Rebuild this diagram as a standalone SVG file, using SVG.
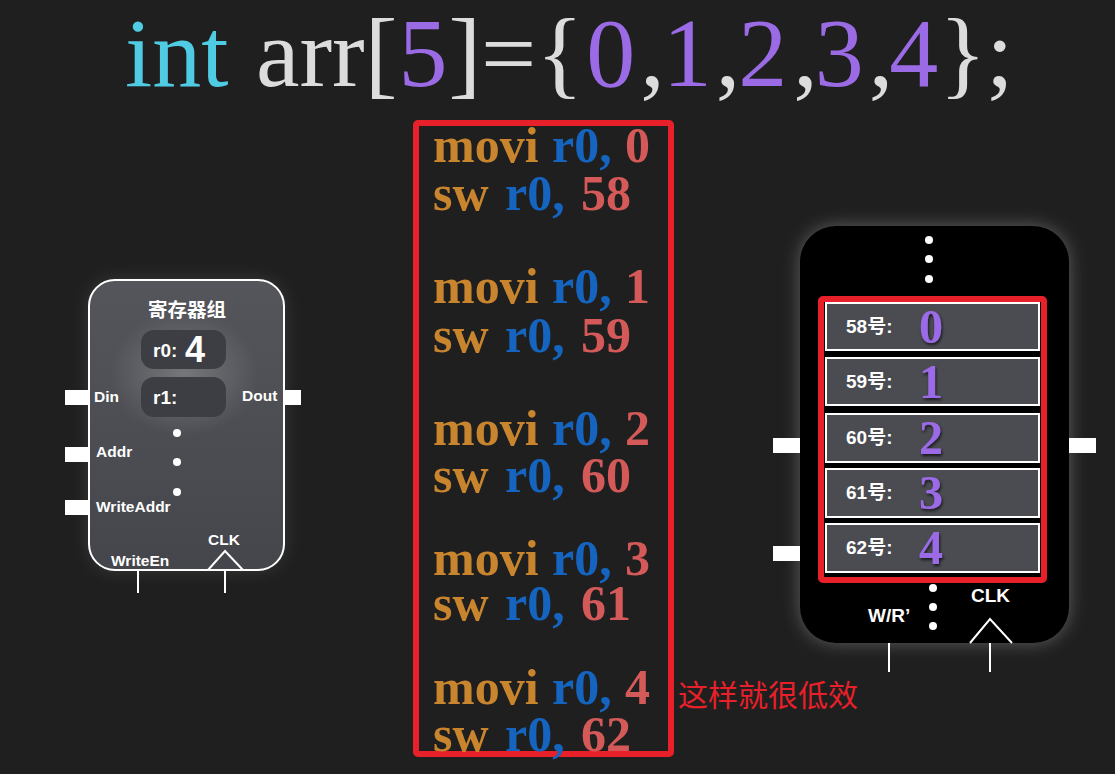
<svg xmlns="http://www.w3.org/2000/svg" width="1115" height="774" viewBox="0 0 1115 774">
<defs>
<style>
.sans{font-family:"Liberation Sans","Noto Sans CJK SC",Arial,sans-serif;font-weight:bold;fill:#ffffff}
.serif{font-family:"Liberation Serif","Times New Roman",serif}
.code{font-family:"Liberation Serif","Times New Roman",serif;font-weight:bold;font-size:50px}
.op{fill:#c8852e}
.reg{fill:#1565c0}
.num{fill:#d45a5a}
.cyan{fill:#4fcbe3}
.gray{fill:#dcdcdc}
.purple{fill:#9b6be6}
.stub{fill:#ffffff}
.wire{stroke:#ffffff;stroke-width:2;fill:none}
.cell{fill:#4b4c52;stroke:#ffffff;stroke-width:2}
.memnum{font-family:"Liberation Serif","Times New Roman",serif;font-weight:bold;font-size:48px;fill:#9b6be6}
.dot{fill:#ffffff}
</style>
<filter id="glow" x="-30%" y="-30%" width="160%" height="160%">
<feGaussianBlur stdDeviation="9"/>
</filter>
<filter id="shadow" x="-30%" y="-30%" width="160%" height="160%">
<feDropShadow dx="1" dy="2" stdDeviation="1.5" flood-color="#000000" flood-opacity="0.7"/>
</filter>
<linearGradient id="boxgrad" x1="0" y1="0" x2="0" y2="1">
<stop offset="0" stop-color="#55565b"/>
<stop offset="1" stop-color="#45464b"/>
</linearGradient>
<radialGradient id="halo" cx="0.5" cy="0.5" r="0.5">
<stop offset="0" stop-color="#ffffff" stop-opacity="0.22"/>
<stop offset="1" stop-color="#ffffff" stop-opacity="0"/>
</radialGradient>
</defs>
<rect width="1115" height="774" fill="#1f1f1f"/>

<g id="title">
<text class="serif" x="125" y="86" font-size="98" xml:space="preserve"><tspan class="cyan">int</tspan><tspan class="gray" dx="3"> arr[</tspan><tspan class="purple" dx="1">5</tspan><tspan class="gray" dx="1">]={</tspan><tspan class="purple" dx="3">0</tspan><tspan class="gray" dx="5">,</tspan><tspan class="purple" dx="-2">1</tspan><tspan class="gray" dx="4">,</tspan><tspan class="purple" dx="-2">2</tspan><tspan class="gray" dx="6">,</tspan><tspan class="purple" dx="-3">3</tspan><tspan class="gray" dx="5">,</tspan><tspan class="purple" dx="-4">4</tspan><tspan class="gray" dx="1">};</tspan></text>
</g>

<g id="code">
<rect x="416" y="123" width="255" height="631" fill="none" stroke="#e8202a" stroke-width="6" rx="2"/>
<text class="code"><tspan class="op" x="433" y="162">movi</tspan><tspan class="reg" x="552" y="162">r0,</tspan><tspan class="num" x="625" y="162">0</tspan><tspan class="op" x="433" y="210">sw</tspan><tspan class="reg" x="505" y="210">r0,</tspan><tspan class="num" x="581" y="210">58</tspan></text>
<text class="code"><tspan class="op" x="433" y="303">movi</tspan><tspan class="reg" x="552" y="303">r0,</tspan><tspan class="num" x="625" y="303">1</tspan><tspan class="op" x="433" y="352">sw</tspan><tspan class="reg" x="505" y="352">r0,</tspan><tspan class="num" x="581" y="352">59</tspan></text>
<text class="code"><tspan class="op" x="433" y="445">movi</tspan><tspan class="reg" x="552" y="445">r0,</tspan><tspan class="num" x="625" y="445">2</tspan><tspan class="op" x="433" y="492">sw</tspan><tspan class="reg" x="505" y="492">r0,</tspan><tspan class="num" x="581" y="492">60</tspan></text>
<text class="code"><tspan class="op" x="433" y="575">movi</tspan><tspan class="reg" x="552" y="575">r0,</tspan><tspan class="num" x="625" y="575">3</tspan><tspan class="op" x="433" y="620">sw</tspan><tspan class="reg" x="505" y="620">r0,</tspan><tspan class="num" x="581" y="620">61</tspan></text>
<text class="code"><tspan class="op" x="433" y="704">movi</tspan><tspan class="reg" x="552" y="704">r0,</tspan><tspan class="num" x="625" y="704">4</tspan><tspan class="op" x="433" y="751">sw</tspan><tspan class="reg" x="505" y="751">r0,</tspan><tspan class="num" x="581" y="751">62</tspan></text>
</g>

<g id="note">
<text x="678" y="706" font-family="'Noto Sans CJK SC',sans-serif" font-size="30" fill="#e8202a">这样就很低效</text>
</g>

<g id="connectors">
<rect class="stub" x="65" y="390" width="24" height="15"/>
<rect class="stub" x="65" y="447" width="24" height="15"/>
<rect class="stub" x="65" y="500" width="24" height="15"/>
<rect class="stub" x="284" y="390" width="17" height="15"/>
<line class="wire" x1="138" y1="570" x2="138" y2="593"/>
<line class="wire" x1="225" y1="570" x2="225" y2="593"/>
<rect class="stub" x="773" y="438" width="27" height="15"/>
<rect class="stub" x="773" y="546" width="27" height="15"/>
<rect class="stub" x="1069" y="438" width="27" height="15"/>
<line class="wire" x1="889" y1="643" x2="889" y2="672"/>
<line class="wire" x1="990" y1="643" x2="990" y2="672"/>
</g>

<g id="regfile">
<rect x="89" y="280" width="195" height="290" rx="26" fill="#ffffff" opacity="0.12" filter="url(#glow)"/>
<rect x="89" y="280" width="195" height="290" rx="26" fill="url(#boxgrad)" stroke="#ffffff" stroke-width="2"/>
<ellipse cx="184" cy="374" rx="75" ry="62" fill="url(#halo)"/>
<text class="sans" x="187" y="317" font-size="19.5" text-anchor="middle">寄存器组</text>
<rect x="141" y="330" width="85" height="39" rx="13" fill="#3d3e43"/>
<text class="sans" x="153" y="357" font-size="19">r0:</text>
<text class="sans" x="185" y="362" font-size="36">4</text>
<rect x="141" y="377" width="85" height="40" rx="13" fill="#3d3e43"/>
<text class="sans" x="153" y="404" font-size="19">r1:</text>
<circle class="dot" cx="177" cy="433" r="4"/>
<circle class="dot" cx="177" cy="462" r="4"/>
<circle class="dot" cx="177" cy="492" r="4"/>
<text class="sans" x="94" y="402" font-size="15.5">Din</text>
<text class="sans" x="242" y="401" font-size="15.5">Dout</text>
<text class="sans" x="96" y="457" font-size="15.5">Addr</text>
<text class="sans" x="96" y="512" font-size="15.5">WriteAddr</text>
<text class="sans" x="208" y="545" font-size="15.5">CLK</text>
<text class="sans" x="111" y="566" font-size="15.5">WriteEn</text>
<polyline class="wire" points="208,570 225,551 243,570"/>
</g>

<g id="memory">
<rect x="800" y="226" width="269" height="417" rx="36" fill="#ffffff" opacity="0.28" filter="url(#glow)"/>
<rect x="800" y="226" width="269" height="417" rx="36" fill="#000000"/>
<circle class="dot" cx="929" cy="240" r="4"/>
<circle class="dot" cx="929" cy="259" r="4"/>
<circle class="dot" cx="929" cy="279" r="4"/>
<rect x="821" y="299" width="223" height="281" fill="none" stroke="#e8202a" stroke-width="6" rx="2"/>
<g id="cell58">
<rect class="cell" x="826" y="303" width="213" height="47"/>
<text class="sans" x="846" y="333" font-size="19">58号:</text>
<text class="memnum" x="931" y="343" text-anchor="middle" filter="url(#shadow)">0</text>
</g>
<g id="cell59">
<rect class="cell" x="826" y="358" width="213" height="47"/>
<text class="sans" x="846" y="388" font-size="19">59号:</text>
<text class="memnum" x="931" y="398" text-anchor="middle" filter="url(#shadow)">1</text>
</g>
<g id="cell60">
<rect class="cell" x="826" y="414" width="213" height="48"/>
<text class="sans" x="846" y="444" font-size="19">60号:</text>
<text class="memnum" x="931" y="454" text-anchor="middle" filter="url(#shadow)">2</text>
</g>
<g id="cell61">
<rect class="cell" x="826" y="469" width="213" height="48"/>
<text class="sans" x="846" y="499" font-size="19">61号:</text>
<text class="memnum" x="931" y="509" text-anchor="middle" filter="url(#shadow)">3</text>
</g>
<g id="cell62">
<rect class="cell" x="826" y="524" width="213" height="48"/>
<text class="sans" x="846" y="554" font-size="19">62号:</text>
<text class="memnum" x="931" y="564" text-anchor="middle" filter="url(#shadow)">4</text>
</g>
<circle class="dot" cx="933" cy="588" r="4"/>
<circle class="dot" cx="933" cy="607" r="4"/>
<circle class="dot" cx="933" cy="626" r="4"/>
<text class="sans" x="868" y="622" font-size="19">W/R’</text>
<text class="sans" x="971" y="602" font-size="19">CLK</text>
<polyline class="wire" points="970,643 990,619 1012,643"/>
</g>
</svg>
